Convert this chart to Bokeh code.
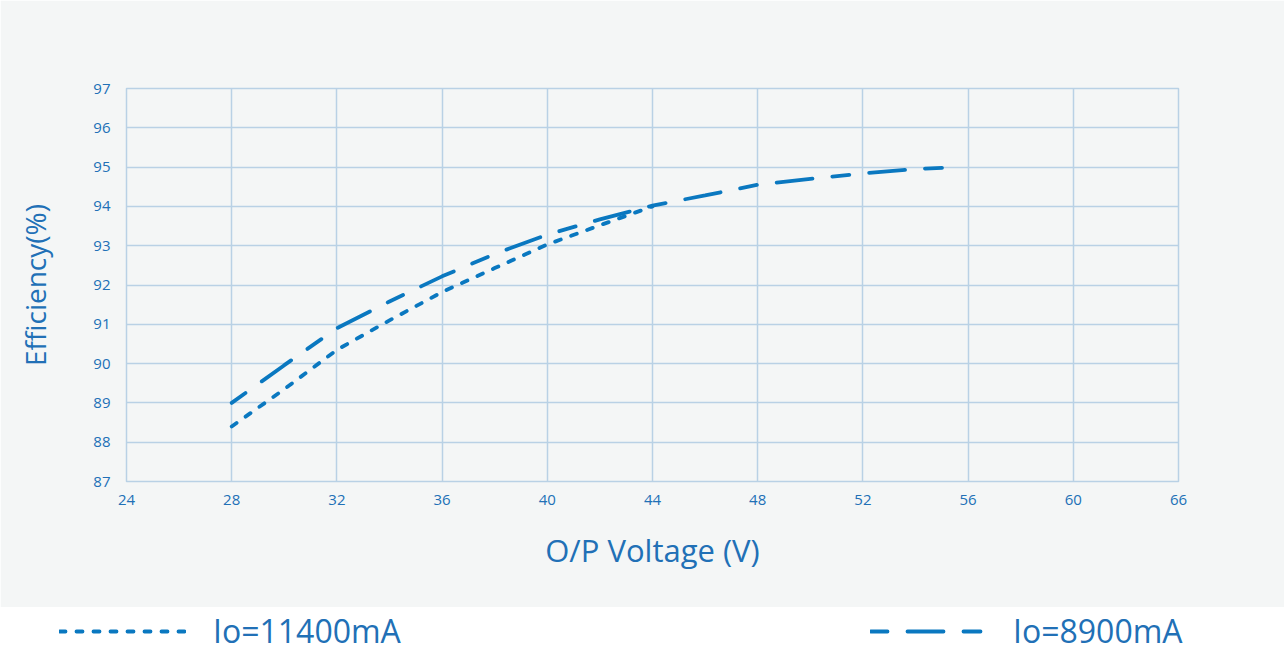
from bokeh.plotting import figure
from bokeh.models import Legend, LegendItem, FixedTicker, Range1d
from bokeh.layouts import column, row
from bokeh.embed import file_html
from bokeh.resources import INLINE

# ---- data ----
v_11400 = [28, 30, 32, 34, 36, 38, 40, 42, 44]
e_11400 = [88.4, 89.35, 90.35, 91.1, 91.82, 92.43, 93.03, 93.52, 94.0]
v_8900 = [28, 30, 32, 34, 36, 38, 40, 42, 44, 46, 48, 50, 52, 54, 55.6]
e_8900 = [89.0, 89.96, 90.9, 91.58, 92.22, 92.79, 93.28, 93.67, 94.02, 94.28, 94.55, 94.7, 94.84, 94.95, 95.0]
x_ticks = [24, 28, 32, 36, 40, 44, 48, 52, 56, 60, 64]
x_tick_labels = ["24", "28", "32", "36", "40", "44", "48", "52", "56", "60", "66"]
y_ticks = [87, 88, 89, 90, 91, 92, 93, 94, 95, 96, 97]
label_11400 = "Io=11400mA"
label_8900 = "Io=8900mA"

LINE = "#0a78c0"
TEXT = "#2170b6"
GRID = "#b9d1e5"
BG = "#f4f6f6"
FONT = "Open Sans"

p = figure(width=1284, height=607, output_backend="svg", toolbar_location=None,
           x_range=Range1d(24, 64), y_range=Range1d(87, 97),
           frame_width=1052, frame_height=393,
           min_border_left=126, min_border_right=106, min_border_top=88, min_border_bottom=126)
p.border_fill_color = BG
p.background_fill_color = BG
p.outline_line_color = GRID
p.outline_line_width = 1.5

p.xaxis.ticker = FixedTicker(ticks=x_ticks)
p.xaxis.major_label_overrides = {t: l for t, l in zip(x_ticks, x_tick_labels)}
p.yaxis.ticker = FixedTicker(ticks=y_ticks)
for ax in (p.xaxis, p.yaxis):
    ax.axis_line_color = GRID
    ax.major_tick_line_color = None
    ax.minor_tick_line_color = None
    ax.major_label_text_color = TEXT
    ax.major_label_text_font = FONT
    ax.major_label_text_font_size = "15px"
    ax.axis_label_text_color = TEXT
    ax.axis_label_text_font = FONT
    ax.axis_label_text_font_style = "normal"
p.xaxis.major_label_standoff = 7
p.yaxis.major_label_standoff = 10
p.xaxis.axis_label = "O/P Voltage (V)"
p.xaxis.axis_label_text_font_size = "31px"
p.xaxis.axis_label_standoff = 21
p.yaxis.axis_label = "Efficiency(%)"
p.yaxis.axis_label_text_font_size = "28px"
p.yaxis.axis_label_standoff = 36

p.grid.grid_line_color = GRID
p.grid.grid_line_width = 1.5
p.xgrid.ticker = FixedTicker(ticks=x_ticks)
p.ygrid.ticker = FixedTicker(ticks=y_ticks)

SHORT_DASH = "6 11"
LONG_DASH = "17 20 36 20"

p.line(v_11400, e_11400, line_color=LINE, line_width=3.8, line_dash=SHORT_DASH, line_cap="round")
p.line(v_8900, e_8900, line_color=LINE, line_width=3.8, line_dash=LONG_DASH, line_cap="round")

# ---- legend strip (white, below the grey panel) ----
q = figure(width=1284, height=45, output_backend="svg", toolbar_location=None,
           x_range=Range1d(0, 1), y_range=Range1d(0, 1),
           min_border_left=0, min_border_right=0, min_border_top=0, min_border_bottom=0)
q.axis.visible = False
q.grid.visible = False
q.outline_line_color = None
q.border_fill_color = "white"
q.background_fill_color = "white"
for fig in (p, q):
    if hasattr(fig, "frame_align"):
        fig.frame_align = False

# legend proxies: same series, outside this strip's ranges so only the legend samples show
r1 = q.line(v_11400, e_11400, line_color=LINE, line_width=3.8, line_dash=SHORT_DASH, line_cap="round")
r2 = q.line(v_8900, e_8900, line_color=LINE, line_width=3.8, line_dash=LONG_DASH, line_cap="round")

def make_legend(r, label, loc, gw, standoff):
    return Legend(items=[LegendItem(label=label, renderers=[r])], location=loc,
                  glyph_width=gw, glyph_height=30, label_height=30, label_standoff=standoff,
                  padding=0, margin=0, border_line_color=None, background_fill_alpha=0,
                  label_text_font=FONT, label_text_font_size="32px", label_text_color=TEXT)

q.add_layout(make_legend(r1, label_11400, (59, 0), 127, 27))
q.add_layout(make_legend(r2, label_8900, (870, 0), 120, 23))

layout = column(p, row(q), spacing=0)
open("out.html", "w").write(file_html(layout, INLINE))
